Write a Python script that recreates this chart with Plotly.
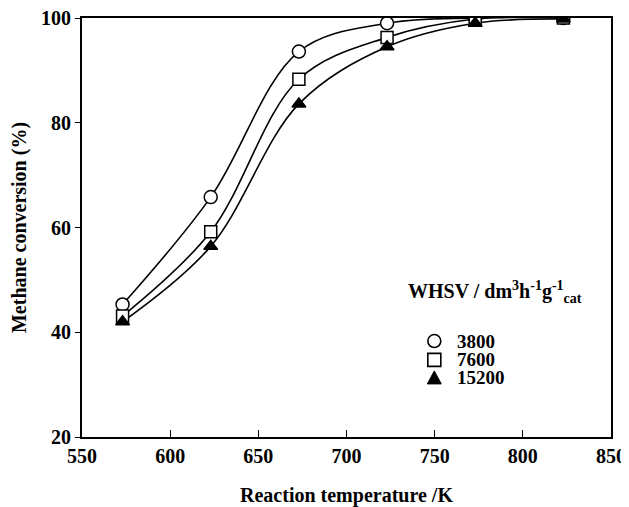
import plotly.graph_objects as go

temps = [573, 623, 673, 723, 773, 823]
conv_3800 = [45.3, 65.8, 93.6, 99.0, 100.0, 100.0]
conv_7600 = [43.1, 59.2, 88.3, 96.3, 99.8, 100.0]
conv_15200 = [42.0, 56.4, 83.6, 94.5, 99.0, 99.8]
series_names = ["3800", "7600", "15200"]
symbols = ["circle", "square", "triangle-up"]
fills = ["white", "white", "black"]

x_ticks = [550, 600, 650, 700, 750, 800, 850]
y_ticks = [20, 40, 60, 80, 100]

font_family = "Liberation Serif, Times New Roman, serif"
FS = 20

fig = go.Figure()
for ys in [conv_3800, conv_7600, conv_15200]:
    fig.add_trace(go.Scatter(
        x=temps, y=ys, mode="lines",
        line=dict(color="black", width=1.6, shape="spline", smoothing=1.0),
        showlegend=False, hoverinfo="skip",
    ))
for name, ys, sym, fc in zip(series_names, [conv_3800, conv_7600, conv_15200], symbols, fills):
    fig.add_trace(go.Scatter(
        x=temps, y=ys, mode="markers", name=name, showlegend=False,
        marker=dict(symbol=sym, size=13 if sym == "circle" else 12,
                    color=fc, line=dict(color="black", width=1.5)),
    ))

# legend glyphs (shapes) and labels (annotations)
leg_x = 0.666
leg_text_x = 0.705
leg_ys = [0.229, 0.184, 0.141]
shapes = [
    dict(type="circle", xref="paper", yref="paper", xsizemode="pixel", ysizemode="pixel",
         xanchor=leg_x, yanchor=leg_ys[0], x0=-6.5, x1=6.5, y0=-6.5, y1=6.5,
         line=dict(color="black", width=1.6), fillcolor="white"),
    dict(type="rect", xref="paper", yref="paper", xsizemode="pixel", ysizemode="pixel",
         xanchor=leg_x, yanchor=leg_ys[1], x0=-6.5, x1=6.5, y0=-6.5, y1=6.5,
         line=dict(color="black", width=1.6), fillcolor="white"),
    dict(type="path", xref="paper", yref="paper", xsizemode="pixel", ysizemode="pixel",
         xanchor=leg_x, yanchor=leg_ys[2], path="M -7 -6 L 7 -6 L 0 7 Z",
         line=dict(color="black", width=1), fillcolor="black"),
]
annotations = [dict(
    text="WHSV / dm<sup>3</sup>h<sup>-1</sup>g<sup>-1</sup><sub>cat</sub>",
    x=0.612, y=0.345, xref="paper", yref="paper",
    xanchor="left", yanchor="middle", showarrow=False,
    font=dict(family=font_family, size=FS, color="black", weight="bold"),
)]
for name, yy in zip(series_names, leg_ys):
    annotations.append(dict(
        text=name, x=leg_text_x, y=yy, xref="paper", yref="paper",
        xanchor="left", yanchor="middle", showarrow=False,
        font=dict(family=font_family, size=FS - 1, color="black", weight="bold"),
    ))

# page body has an 8px margin, so the figure is offset by 8px
fig.update_layout(
    width=621, height=499,
    margin=dict(l=74, r=18, t=10, b=70, autoexpand=False),
    paper_bgcolor="white", plot_bgcolor="white",
    font=dict(family=font_family, color="black", size=FS, weight="bold"),
    showlegend=False,
    shapes=shapes,
    annotations=annotations,
)
fig.update_xaxes(
    range=[550, 850], tickvals=x_ticks,
    ticks="inside", ticklen=7, tickwidth=1, tickcolor="black",
    showline=True, linecolor="black", linewidth=2, mirror=True,
    showgrid=False, zeroline=False, ticklabeloverflow="allow",
    tickfont=dict(family=font_family, size=FS, weight="bold"),
    title=dict(text="Reaction temperature /K", font=dict(family=font_family, size=FS, weight="bold"), standoff=30),
)
fig.update_yaxes(
    range=[20, 100], tickvals=y_ticks,
    ticks="outside", ticklen=5, tickwidth=1, tickcolor="black",
    showline=True, linecolor="black", linewidth=2, mirror=True,
    showgrid=False, zeroline=False, ticklabeloverflow="allow",
    tickfont=dict(family=font_family, size=FS, weight="bold"),
    title=dict(text="Methane conversion (%)", font=dict(family=font_family, size=FS, weight="bold"), standoff=14),
)
fig.write_html("out.html")
